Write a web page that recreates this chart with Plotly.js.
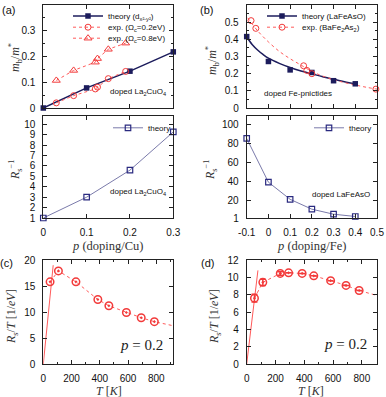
<!DOCTYPE html>
<html>
<head>
<meta charset="utf-8">
<script src="https://cdn.plot.ly/plotly-3.0.1.min.js"></script>
<style>html,body{margin:0;padding:0;background:#fff}#chart{width:386px;height:397px}</style>
</head>
<body>
<div id="chart"></div>
<script>
// ---- data: panel (a) La2CuO4 ----
const dopingA = [0, 0.1, 0.2, 0.3];
const mbTheoryA = [0, 0.078, 0.143, 0.218];
const dopingExpA = [0.03, 0.07, 0.12, 0.125, 0.15, 0.19];
const mbExp02A = [0.02, 0.048, 0.074, 0.081, 0.114, 0.142];
const mbExp08A = [0.107, 0.146, 0.178, 0.192, 0.228, 0.252];
const rInvA = [1, 3.0, 5.6, 9.27];

// ---- data: panel (b) Fe-pnictides ----
const dopingB = [-0.1, 0, 0.1, 0.2, 0.3, 0.4];
const mbTheoryB = [0.416, 0.271, 0.222, 0.207, 0.159, 0.141];
const dopingTheoryCurveB = [-0.1, -0.075, -0.05, -0.025, 0, 0.05, 0.1, 0.15, 0.2, 0.25, 0.3, 0.35, 0.4];
const mbTheoryCurveB = [0.415, 0.37, 0.338, 0.312, 0.29, 0.26, 0.236, 0.216, 0.199, 0.182, 0.167, 0.153, 0.141];
const dopingExpB = [-0.08, -0.058, 0.162, 0.177, 0.2, 0.495];
const mbExpB = [0.509, 0.464, 0.246, 0.219, 0.2, 0.11];
const dopingExpCurveB = [-0.095, -0.05, 0, 0.05, 0.1, 0.15, 0.2, 0.25, 0.3, 0.35, 0.4, 0.45, 0.5];
const mbExpCurveB = [0.525, 0.45, 0.385, 0.33, 0.287, 0.25, 0.213, 0.186, 0.165, 0.148, 0.134, 0.121, 0.11];
const rInvB = [85, 38.8, 20.7, 10.3, 5.0, 2.6];

// ---- data: panel (c) ----
const tempC = [48, 107, 231, 386, 464, 588, 693, 786];
const rsC = [15.8, 17.9, 15.8, 12.4, 11.2, 9.9, 8.9, 8.14];
const tempLineC = [48, 107, 231, 386, 464, 588, 693, 786, 917];
const rsLineC = [15.8, 17.9, 15.8, 12.4, 11.2, 9.9, 8.9, 8.14, 7.37];
const lowTempC = [0, 70];
const lowRsC = [0, 19];

// ---- data: panel (d) ----
const tempD = [54, 112, 233, 291, 385, 466, 583, 690, 781];
const rsD = [7.6, 9.42, 10.45, 10.52, 10.45, 10.17, 9.62, 9.07, 8.48];
const errD = [0.45, 0.35, 0.2, 0, 0, 0, 0, 0, 0];
const tempLineD = [54, 112, 233, 291, 385, 466, 583, 690, 781, 905];
const rsLineD = [7.6, 9.42, 10.45, 10.52, 10.45, 10.17, 9.62, 9.07, 8.48, 7.9];
const lowTempD = [0, 78];
const lowRsD = [0, 10.8];

// tick labels
const ticksA = [0, 0.1, 0.2, 0.3];
const ticksB = [-0.1, 0, 0.1, 0.2, 0.3, 0.4, 0.5];
const tickTextB = ['-0.1', '0', '0.1', '0.2', '0.3', '0.4', '0.5'];
const ticksRA = [1, 2, 3, 4, 5, 6, 7, 8, 9, 10];
const ticksRB = [1, 20, 40, 60, 80, 100];

// ---- styling ----
const W = 386, H = 397;
const px = v => v / W, py = v => 1 - v / H;
const NAVY = '#1c1c5c', SLATE = '#7a7aaa', RED = '#f23a3a', REDL = '#ff5a5a';
const SANS = 'Liberation Sans, Arial, sans-serif';
const SERIF = 'Liberation Serif, Times New Roman, serif';

function ax(domain, range, extra) {
  return Object.assign({
    domain: domain, range: range, showline: true, linecolor: '#222', linewidth: 1,
    mirror: 'ticks', ticks: 'inside', ticklen: 4, tickcolor: '#222', tickwidth: 1,
    showgrid: false, zeroline: false, ticklabelstandoff: 5,
    tickfont: {family: SANS, size: 10, color: '#111'}, fixedrange: true
  }, extra || {});
}
const xdA = [px(43.3), px(173.3)], xdB = [px(246.7), px(377)];
const ydTop = [py(108), py(5)], ydMid = [py(218), py(116)], ydBot = [py(364), py(260)];

const traces = [
  // (a) top
  {x: dopingA, y: mbTheoryA, xaxis: 'x', yaxis: 'y', mode: 'lines+markers', name: 'theory (d<sub>x²-y²</sub>)',
   line: {color: NAVY, width: 1.5}, marker: {symbol: 'square', size: 5.5, color: NAVY}, legend: 'legend', cliponaxis: false},
  {x: dopingExpA, y: mbExp02A, xaxis: 'x', yaxis: 'y', mode: 'lines+markers', name: 'exp. (Ω<sub>c</sub>=0.2eV)',
   line: {color: REDL, width: 1, dash: 'dot'}, marker: {symbol: 'circle-open', size: 6, color: RED, line: {width: 1}}, legend: 'legend2', cliponaxis: false},
  {x: dopingExpA, y: mbExp08A, xaxis: 'x', yaxis: 'y', mode: 'lines+markers', name: 'exp. (Ω<sub>c</sub>=0.8eV)',
   line: {color: REDL, width: 1, dash: 'dot'}, marker: {symbol: 'triangle-up-open', size: 7, color: RED, line: {width: 1}}, legend: 'legend3', cliponaxis: false},
  // (a) bottom
  {x: dopingA, y: rInvA, xaxis: 'x2', yaxis: 'y2', mode: 'lines+markers', name: 'theory',
   line: {color: SLATE, width: 1}, marker: {symbol: 'square-open', size: 5.5, color: '#2a2a80', line: {width: 1.2}}, legend: 'legend6', cliponaxis: false},
  // (b) top
  {x: dopingTheoryCurveB, y: mbTheoryCurveB, xaxis: 'x3', yaxis: 'y3', mode: 'lines', line: {color: NAVY, width: 1.5, shape: 'spline'}, showlegend: false, cliponaxis: false},
  {x: dopingExpCurveB, y: mbExpCurveB, xaxis: 'x3', yaxis: 'y3', mode: 'lines', line: {color: REDL, width: 1, dash: 'dot', shape: 'spline'}, showlegend: false, cliponaxis: false},
  {x: dopingB, y: mbTheoryB, xaxis: 'x3', yaxis: 'y3', mode: 'markers', marker: {symbol: 'square', size: 5.5, color: NAVY}, showlegend: false, cliponaxis: false},
  {x: dopingExpB, y: mbExpB, xaxis: 'x3', yaxis: 'y3', mode: 'markers', marker: {symbol: 'circle-open', size: 6, color: RED, line: {width: 1}}, showlegend: false, cliponaxis: false},
  {x: [null], y: [null], xaxis: 'x3', yaxis: 'y3', mode: 'lines+markers', name: 'theory (LaFeAsO)',
   line: {color: NAVY, width: 1.5}, marker: {symbol: 'square', size: 5.5, color: NAVY}, legend: 'legend4'},
  {x: [null], y: [null], xaxis: 'x3', yaxis: 'y3', mode: 'lines+markers', name: 'exp. (BaFe<sub>2</sub>As<sub>2</sub>)',
   line: {color: REDL, width: 1, dash: 'dot'}, marker: {symbol: 'circle-open', size: 6, color: RED, line: {width: 1}}, legend: 'legend5'},
  // (b) bottom
  {x: dopingB, y: rInvB, xaxis: 'x4', yaxis: 'y4', mode: 'lines+markers', name: 'theory',
   line: {color: SLATE, width: 1}, marker: {symbol: 'square-open', size: 5.5, color: '#2a2a80', line: {width: 1.2}}, legend: 'legend7', cliponaxis: false},
  // (c)
  {x: lowTempC, y: lowRsC, xaxis: 'x5', yaxis: 'y5', mode: 'lines', line: {color: REDL, width: 1}, showlegend: false, cliponaxis: false},
  {x: tempLineC, y: rsLineC, xaxis: 'x5', yaxis: 'y5', mode: 'lines', line: {color: REDL, width: 1, dash: 'dot'}, showlegend: false, cliponaxis: false},
  {x: tempC, y: rsC, xaxis: 'x5', yaxis: 'y5', mode: 'markers', marker: {symbol: 'circle-open-dot', size: 7.5, color: RED, line: {width: 1.5}}, showlegend: false, cliponaxis: false},
  // (d)
  {x: lowTempD, y: lowRsD, xaxis: 'x6', yaxis: 'y6', mode: 'lines', line: {color: REDL, width: 1}, showlegend: false, cliponaxis: false},
  {x: tempLineD, y: rsLineD, xaxis: 'x6', yaxis: 'y6', mode: 'lines', line: {color: REDL, width: 1, dash: 'dot'}, showlegend: false, cliponaxis: false},
  {x: tempD, y: rsD, xaxis: 'x6', yaxis: 'y6', mode: 'markers', marker: {symbol: 'circle-open-dot', size: 7.5, color: RED, line: {width: 1.5}},
   error_y: {type: 'data', array: errD, visible: true, color: RED, thickness: 1.5, width: 3}, showlegend: false, cliponaxis: false}
];

function leg(x, y) {
  return {x: x, y: y, xanchor: 'left', yanchor: 'middle', bgcolor: 'rgba(0,0,0,0)', borderwidth: 0,
          font: {family: SANS, size: 8, color: '#111'}, itemwidth: 30, tracegroupgap: 0};
}
function ann(text, x, y, opts) {
  return Object.assign({text: text, x: px(x), y: py(y), xref: 'paper', yref: 'paper', showarrow: false,
    xanchor: 'center', yanchor: 'middle', font: {family: SANS, size: 8, color: '#111'}}, opts || {});
}
const serifTitle = s => ({family: SERIF, size: s, color: '#333'});
const LY = 4.5; // legend vertical correction

const layout = {
  width: W, height: H, margin: {l: 0, r: 0, t: 0, b: 0}, paper_bgcolor: '#fff', plot_bgcolor: '#fff',
  showlegend: true,
  xaxis: ax(xdA, [0, 0.3], {anchor: 'y', tickvals: ticksA, showticklabels: false}),
  yaxis: ax(ydTop, [0, 0.4], {anchor: 'x', dtick: 0.1, minor: {dtick: 0.05, ticks: 'inside', ticklen: 2, tickcolor: '#222'}}),
  xaxis2: ax(xdA, [0, 0.3], {anchor: 'y2', tickvals: ticksA}),
  yaxis2: ax(ydMid, [1, 10.8], {anchor: 'x2', tickvals: ticksRA}),
  xaxis3: ax(xdB, [-0.1, 0.5], {anchor: 'y3', tickvals: ticksB, showticklabels: false}),
  yaxis3: ax(ydTop, [0, 0.6], {anchor: 'x3', dtick: 0.1, minor: {dtick: 0.05, ticks: 'inside', ticklen: 2, tickcolor: '#222'}}),
  xaxis4: ax(xdB, [-0.1, 0.5], {anchor: 'y4', tickvals: ticksB, ticktext: tickTextB}),
  yaxis4: ax(ydMid, [1, 108.7], {anchor: 'x4', tickvals: ticksRB}),
  xaxis5: ax(xdA, [0, 920], {anchor: 'y5', dtick: 200, minor: {dtick: 100, ticks: 'inside', ticklen: 2, tickcolor: '#222'}}),
  yaxis5: ax(ydBot, [0, 20], {anchor: 'x5', dtick: 5}),
  xaxis6: ax(xdB, [0, 905], {anchor: 'y6', dtick: 200, minor: {dtick: 100, ticks: 'inside', ticklen: 2, tickcolor: '#222'}}),
  yaxis6: ax(ydBot, [0, 12], {anchor: 'x6', dtick: 2}),
  legend: leg(px(68), py(11.5 + LY)),
  legend2: leg(px(68), py(22.7 + LY)),
  legend3: leg(px(68), py(33.7 + LY)),
  legend4: leg(px(262), py(11.5 + LY)),
  legend5: leg(px(262), py(22.7 + LY)),
  legend6: leg(px(108), py(123.3 + LY)),
  legend7: leg(px(309), py(123.3 + LY)),
  annotations: [
    ann('(a)', 8, 10, {font: {family: SANS, size: 11, color: '#111'}}),
    ann('(b)', 206, 10, {font: {family: SANS, size: 11, color: '#111'}}),
    ann('(c)', 7, 263, {font: {family: SANS, size: 11, color: '#111'}}),
    ann('(d)', 207, 263, {font: {family: SANS, size: 11, color: '#111'}}),
    ann('doped La<sub>2</sub>CuO<sub>4</sub>', 168, 92, {xanchor: 'right'}),
    ann('doped La<sub>2</sub>CuO<sub>4</sub>', 168, 192, {xanchor: 'right'}),
    ann('doped Fe-pnictides', 262, 93, {xanchor: 'left'}),
    ann('doped LaFeAsO', 372, 194, {xanchor: 'right'}),
    ann('<i>p</i> = 0.2', 141, 345, {font: {family: SERIF, size: 15, color: '#222'}}),
    ann('<i>p</i> = 0.2', 345, 344, {font: {family: SERIF, size: 15, color: '#222'}}),
    ann('<i>m</i><sub>b</sub>/<i>m</i><sup>*</sup>', 15, 58, {textangle: -90, font: serifTitle(12)}),
    ann('<i>R</i><sub>s</sub><sup>−1</sup>', 15, 170, {textangle: -90, font: serifTitle(12)}),
    ann('<i>m</i><sub>b</sub>/<i>m</i><sup>*</sup>', 212, 60, {textangle: -90, font: serifTitle(12)}),
    ann('<i>R</i><sub>s</sub><sup>−1</sup>', 210, 170, {textangle: -90, font: serifTitle(12)}),
    ann('<i>R</i><sub>s</sub>/<i>T</i> [1/<i>eV</i>]', 12, 317, {textangle: -90, font: serifTitle(12)}),
    ann('<i>R</i><sub>s</sub>/<i>T</i> [1/<i>eV</i>]', 215, 317, {textangle: -90, font: serifTitle(12)}),
    ann('<i>p</i> (doping/Cu)', 107, 246, {font: serifTitle(12.5)}),
    ann('<i>p</i> (doping/Fe)', 311, 246, {font: serifTitle(12.5)}),
    ann('<i>T</i> [<i>K</i>]', 109, 391, {font: serifTitle(12)}),
    ann('<i>T</i> [<i>K</i>]', 311, 391, {font: serifTitle(12)})
  ]
};

Plotly.newPlot('chart', traces, layout, {displayModeBar: false, staticPlot: true});
</script>
</body>
</html>
